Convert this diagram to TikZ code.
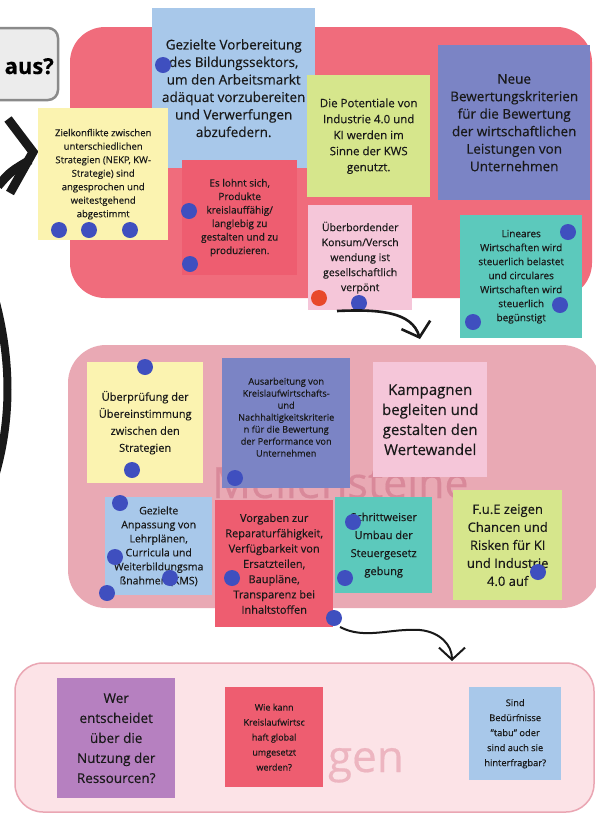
\documentclass[tikz,border=0pt]{standalone}
\usepackage{fontspec}
\setmainfont{Open Sans}[FakeBold=0.35]
\usetikzlibrary{arrows.meta}
\definecolor{topred}{HTML}{F06C7C}
\definecolor{midpink}{HTML}{E9A9B4}
\definecolor{botpink}{HTML}{FCE3E7}
\definecolor{botline}{HTML}{EAA6B3}
\definecolor{wmmid}{HTML}{D9899A}
\definecolor{wmbot}{HTML}{EDB5C0}
\definecolor{nblue}{HTML}{A8C8EA}
\definecolor{nyellow}{HTML}{FBF3B0}
\definecolor{nred}{HTML}{EE5D70}
\definecolor{nlime}{HTML}{D6E68C}
\definecolor{npurple}{HTML}{7B84C5}
\definecolor{npink}{HTML}{F5C6D9}
\definecolor{nteal}{HTML}{5CC9BC}
\definecolor{nviolet}{HTML}{B680C0}
\definecolor{dotblue}{HTML}{3F4FBF}
\definecolor{dotorange}{HTML}{E8492A}
\definecolor{greybox}{HTML}{ECECEC}
\definecolor{greyline}{HTML}{8A8A8A}
\begin{document}
\begin{tikzpicture}[x=1pt,y=-1pt,
  note/.style={rectangle, anchor=north west, inner sep=0pt, align=center, text=black!90},
  dot/.style={circle, fill=dotblue, minimum size=16pt, inner sep=0pt},
  odot/.style={circle, fill=dotorange, minimum size=16pt, inner sep=0pt},
  bigblack/.style={line width=9pt, black!90, line cap=butt},
  flow/.style={line width=2.6pt, black!90, -{Straight Barb[length=13pt,width=30pt,line width=2.6pt]}}]
\useasboundingbox (0,0) rectangle (596,815);
\fill[white] (0,0) rectangle (596,815);

% regions
\fill[topred, rounded corners=35pt] (70,27) rectangle (592,298);
\fill[midpink, rounded corners=38pt] (68,345) rectangle (600,608);
\draw[botline, fill=botpink, line width=1.5pt, rounded corners=28pt] (15,663) rectangle (594,812);

% watermarks
\node[anchor=base west, inner sep=0pt, text=wmmid, font=\fontsize{43}{43}\selectfont] (wm1) at (212,498) {Meilensteine};
\node[anchor=base east, inner sep=0pt, text=wmbot, font=\fontsize{44}{44}\selectfont] (wm2) at (404,772) {gen};

% top-left grey box and black strokes
\draw[greyline, fill=greybox, line width=2.5pt, rounded corners=10pt] (-20,28) rectangle (58,100);
\node[anchor=base east, inner sep=0pt, font=\bfseries\fontsize{22}{22}\selectfont] (aus) at (54,74) {aus?};
\draw[bigblack, line join=miter] (8,119) -- (33,152) -- (10,193);
\draw[bigblack] (-2,186) .. controls (10,172) .. (30,160);
\draw[line width=8pt, black!90] (-6,295) .. controls (12,360) and (12,420) .. (-6,480);

% top notes
\node[note, fill=nblue, minimum width=163pt, minimum height=160pt, font=\fontsize{13.5}{17.5}\selectfont] (n1) at (152,8)
  {Gezielte Vorbereitung\\des Bildungssektors,\\um den Arbeitsmarkt\\adäquat vorzubereiten\\und Verwerfungen\\abzufedern.};
\node[note, fill=nyellow, minimum width=130pt, minimum height=132pt, font=\fontsize{9.5}{13.5}\selectfont] (n2) at (38,108)
  {Zielkonflikte zwischen\\unterschiedlichen\\Strategien (NEKP, KW-\\Strategie) sind\\angesprochen und\\weitestgehend\\abgestimmt};
\node[note, fill=nred, minimum width=115pt, minimum height=115pt, font=\fontsize{10}{13.5}\selectfont] (n3) at (182,160)
  {Es lohnt sich,\\Produkte\\kreislauffähig/\\langlebig zu\\gestalten und zu\\produzieren.};
\node[note, fill=nlime, minimum width=123pt, minimum height=122pt, font=\fontsize{11.5}{16}\selectfont] (n4) at (307,75)
  {Die Potentiale von\\Industrie 4.0 und\\KI werden im\\Sinne der KWS\\genutzt.};
\node[note, fill=npurple, minimum width=152pt, minimum height=155pt, font=\fontsize{13.5}{17.5}\selectfont] (n5) at (438,45)
  {Neue\\Bewertungskriterien\\für die Bewertung\\der wirtschaftlichen\\Leistungen von\\Unternehmen};
\node[note, fill=npink, minimum width=104pt, minimum height=105pt, font=\fontsize{10.5}{15}\selectfont] (n6) at (308,205)
  {Überbordender\\Konsum/Versch\\wendung ist\\gesellschaftlich\\verpönt};
\node[note, fill=nteal, minimum width=122pt, minimum height=123pt, font=\fontsize{10}{14}\selectfont] (n7) at (460,215)
  {Lineares\\Wirtschaften wird\\steuerlich belastet\\und circulares\\Wirtschaften wird\\steuerlich\\begünstigt};

% top dots
\node[dot] (d1) at (163,65) {};
\node[dot] (d2) at (59,230) {};
\node[dot] (d3) at (89,230) {};
\node[dot] (d4) at (130,230) {};
\node[dot] (d5) at (189,211) {};
\node[dot] (d6) at (190,264) {};
\node[odot] (d7) at (319,298) {};
\node[dot] (d8) at (359,303) {};
\node[dot] (d9) at (568,232) {};
\node[dot] (d10) at (560,305) {};
\node[dot] (d11) at (473,322) {};

% middle notes
\node[note, fill=nyellow, minimum width=116pt, minimum height=121pt, font=\fontsize{11}{17}\selectfont] (m1) at (87,362)
  {Überprüfung der\\Übereinstimmung\\zwischen den\\Strategien};
\node[note, fill=npurple, minimum width=128pt, minimum height=118pt, font=\fontsize{9.2}{12}\selectfont] (m2) at (222,358)
  {Ausarbeitung von\\Kreislaufwirtschafts-\\und\\Nachhaltigkeitskriterie\\n für die Bewertung\\der Performance von\\Unternehmen};
\fill[npurple] (m2.south west) rectangle ([yshift=-12pt]m2.south east);
\node[note, fill=npink, minimum width=114pt, minimum height=115pt, font=\fontsize{15}{20}\selectfont] (m3) at (373,362)
  {Kampagnen\\begleiten und\\gestalten den\\Wertewandel};
\node[note, fill=nblue, minimum width=107pt, minimum height=98pt, font=\fontsize{10.5}{14}\selectfont] (m4) at (105,497)
  {Gezielte\\Anpassung von\\Lehrplänen,\\Curricula und\\Weiterbildungsma\\ßnahmen (KMS)};
\node[note, fill=nred, minimum width=118pt, minimum height=127pt, font=\fontsize{11}{15.3}\selectfont] (m5) at (215,500)
  {Vorgaben zur\\Reparaturfähigkeit,\\Verfügbarkeit von\\Ersatzteilen,\\Baupläne,\\Transparenz bei\\Inhaltstoffen};
\node[note, fill=nteal, minimum width=97pt, minimum height=96pt, font=\fontsize{11}{18}\selectfont] (m6) at (335,497)
  {Schrittweiser\\Umbau der\\Steuergesetz\\gebung};
\node[note, fill=nlime, minimum width=109pt, minimum height=110pt, font=\fontsize{13}{18}\selectfont] (m7) at (453,490)
  {F.u.E zeigen\\Chancen und\\Risken für KI\\und Industrie\\4.0 auf};

% middle dots
\node[dot] (e1) at (145,367) {};
\node[dot] (e2) at (132,470) {};
\node[dot] (e3) at (235,478) {};
\node[dot] (e4) at (120,503) {};
\node[dot] (e5) at (115,557) {};
\node[dot] (e6) at (107,593) {};
\node[dot] (e7) at (170,578) {};
\node[dot] (e8) at (232,578) {};
\node[dot] (e9) at (334,618) {};
\node[dot] (e10) at (353,522) {};
\node[dot] (e11) at (345,578) {};
\node[dot] (e12) at (538,572) {};

% bottom notes
\node[note, fill=nviolet, minimum width=118pt, minimum height=120pt, font=\fontsize{13.5}{20}\selectfont] (b1) at (57,678)
  {Wer\\entscheidet\\über die\\Nutzung der\\Ressourcen?};
\node[note, fill=nred, minimum width=98pt, minimum height=100pt, font=\fontsize{9}{15}\selectfont] (b2) at (225,687)
  {Wie kann\\Kreislaufwirtsc\\haft global\\umgesetzt\\werden?};
\node[note, fill=nblue, minimum width=92pt, minimum height=93pt, font=\fontsize{9.3}{15}\selectfont] (b3) at (469,687)
  {Sind\\Bedürfnisse\\"tabu" oder\\sind auch sie\\hinterfragbar?};

% connectors
\coordinate (a1s) at (337,311);
\coordinate (a1e) at (420,339);
\draw[flow] (a1s) .. controls (380,309) and (412,312) .. (a1e);
\coordinate (a2s) at (340,627);
\coordinate (a2e) at (452,661);
\draw[flow, line width=2pt, -{Straight Barb[length=12pt,width=26pt,line width=2pt]}] (a2s) .. controls (365,640) and (390,628) .. (420,630) .. controls (440,632) and (452,645) .. (a2e);
\end{tikzpicture}
\end{document}
